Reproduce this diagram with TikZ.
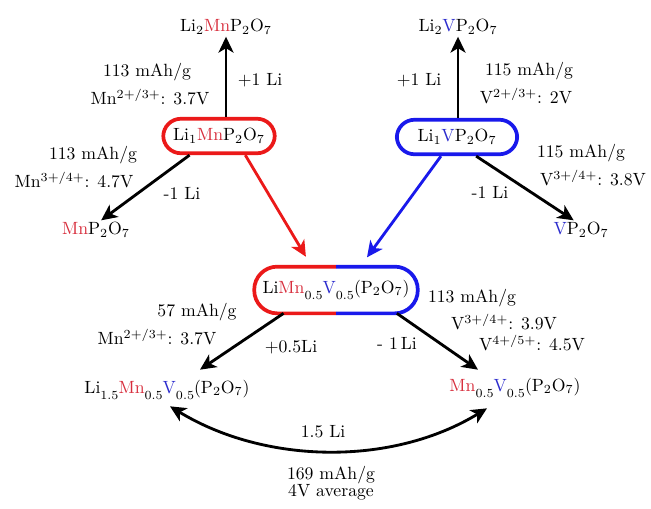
\documentclass[tikz,border=0pt]{standalone}
\usetikzlibrary{arrows.meta,calc}
\definecolor{mnc}{RGB}{215,45,60}
\definecolor{vc}{RGB}{45,45,205}
\definecolor{boxred}{RGB}{235,25,25}
\definecolor{boxblue}{RGB}{25,25,235}
\newcommand\MnT{\textcolor{mnc}{Mn}}
\newcommand\VT{\textcolor{vc}{V}}
\newcommand\lsub[1]{\raisebox{-0.9ex}{\scriptsize #1}}
\begin{document}
\begin{tikzpicture}[x=0.565pt,y=0.565pt,
  lbl/.style={inner sep=1pt},
  formula/.style={inner sep=1pt},
  pill/.style={line width=2.1pt, rounded corners=10pt, minimum height=19.5pt, inner sep=2pt},
  arr/.style={line width=1.6pt,-{Stealth[length=9pt,width=8.5pt,inset=2.5pt]}},
  dblarr/.style={line width=1.6pt,{Stealth[length=9pt,width=8.5pt,inset=2.5pt]}-{Stealth[length=9pt,width=8.5pt,inset=2.5pt]}}]
\useasboundingbox (0,0) rectangle (651,-508);

% formulas
\node[formula] (m2) at (226,-27) {Li$_2$\MnT P$_2$O$_7$};
\node[pill, draw=boxred, minimum width=63pt] (m1) at (219,-136) {Li$_1$\MnT P$_2$O$_7$};
\node[formula] (mnp) at (96,-230) {\MnT P$_2$O$_7$};
\node[formula] (v2) at (458,-27) {Li$_2$\VT P$_2$O$_7$};
\node[pill, draw=boxblue, minimum width=68pt] (v1) at (457,-137) {Li$_1$\VT P$_2$O$_7$};
\node[formula] (vp) at (581,-230) {\VT P$_2$O$_7$};
\node[minimum width=92pt, minimum height=26pt, inner sep=2pt] (c) at (336,-290) {Li\MnT\lsub{0.5}\VT\lsub{0.5}(P$_2$O$_7$)};
\draw[boxred, line width=2.1pt, rounded corners=13pt] (c.north) -- (c.north west) -- (c.south west) -- (c.south);
\draw[boxblue, line width=2.1pt, rounded corners=13pt] (c.north) -- (c.north east) -- (c.south east) -- (c.south);
\node[formula] (bl) at (167,-390) {Li\lsub{1.5}\MnT\lsub{0.5}\VT\lsub{0.5}(P$_2$O$_7$)};
\node[formula] (br) at (515,-388) {\MnT\lsub{0.5}\VT\lsub{0.5}(P$_2$O$_7$)};

% labels
\node[lbl] (l1) at (147,-72) {113 mAh/g};
\node[lbl] (l2) at (150,-97) {Mn$^{2+/3+}$: 3.7V};
\node[lbl] (l3) at (260,-80) {+1 Li};
\node[lbl] (l4) at (93,-155) {113 mAh/g};
\node[lbl] (l5) at (74,-180) {Mn$^{3+/4+}$: 4.7V};
\node[lbl] (l6) at (182,-193) {-1 Li};
\node[lbl] (l7) at (419,-80) {+1 Li};
\node[lbl] (l8) at (529,-71) {115 mAh/g};
\node[lbl] (l9) at (526,-96) {V$^{2+/3+}$: 2V};
\node[lbl] (l10) at (581,-153) {115 mAh/g};
\node[lbl] (l11) at (593,-178) {V$^{3+/4+}$: 3.8V};
\node[lbl] (l12) at (490,-192) {-1 Li};
\node[lbl] (l13) at (197,-312) {57 mAh/g};
\node[lbl] (l14) at (157,-337) {Mn$^{2+/3+}$: 3.7V};
\node[lbl] (l15) at (291,-347) {+0.5Li};
\node[lbl] (l16) at (472,-298) {113 mAh/g};
\node[lbl] (l17) at (504,-322) {V$^{3+/4+}$: 3.9V};
\node[lbl] (l18) at (532,-343) {V$^{4+/5+}$: 4.5V};
\node[lbl] (l19) at (397,-343) {- 1\,Li};
\node[lbl] (l20) at (323,-432) {1.5 Li};
\node[lbl] (l21) at (331,-475) {169 mAh/g};
\node[lbl] (l22) at (331,-492) {4V average};

% arrows
\draw[arr] (m1.north -| m2.south) -- (m2.south);
\draw[arr] (m1.-147) -- (mnp.62);
\draw[arr, boxred, shorten >=6.5pt] (m1.-36) -- (c.136);
\draw[arr] (v1.north -| v2.south) -- (v2.south);
\draw[arr] (v1.-45) -- (vp.127);
\draw[arr, boxblue, shorten >=6.5pt] (v1.-130) -- (c.44);
\draw[arr] (c.-156) -- ([shift={(33,8)}]bl.north);
\draw[arr] (c.-21) -- ([shift={(-37,6)}]br.north);
\draw[dblarr] ([shift={(3,-4)}]bl.south) .. controls +(95,-58) and +(-95,-58) .. ([shift={(-28,-8)}]br.south);
\end{tikzpicture}
\end{document}
